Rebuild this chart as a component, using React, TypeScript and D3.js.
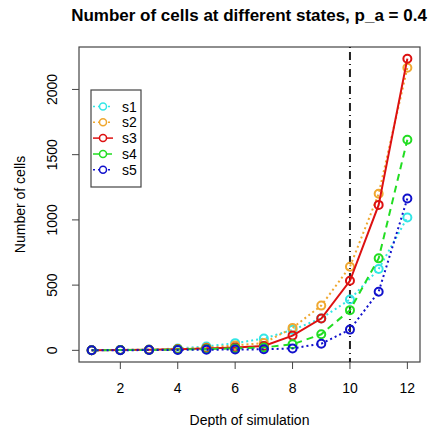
import React from "react";
import * as d3 from "d3";

const depth = [1, 2, 3, 4, 5, 6, 7, 8, 9, 10, 11, 12];
const s1 = [1, 3, 6, 14, 30, 55, 90, 157, 245, 390, 623, 1018];
const s2 = [1, 3, 5, 10, 20, 38, 56, 172, 343, 641, 1200, 2167];
const s3 = [1, 2, 4, 8, 15, 22, 33, 113, 244, 533, 1115, 2236];
const s4 = [1, 2, 3, 6, 10, 15, 22, 46, 123, 308, 705, 1615];
const s5 = [1, 1, 2, 3, 5, 6, 8, 15, 51, 159, 449, 1164];
const xTicks = [2, 4, 6, 8, 10, 12];
const yTicks = [0, 500, 1000, 1500, 2000];
const cutoff = 10;

const series = [
  { name: "s1", values: s1, color: "#33e6e6", dash: "2,3" },
  { name: "s2", values: s2, color: "#f0a830", dash: "2,3" },
  { name: "s3", values: s3, color: "#dd1111", dash: "" },
  { name: "s4", values: s4, color: "#22dd22", dash: "7,5" },
  { name: "s5", values: s5, color: "#1111cc", dash: "2,3" },
];

const W = 430, H = 427;
const left = 79, right = 420, top = 47, bottom = 362;

const App = () => {
  const maxV = d3.max(series, (s) => d3.max(s.values)) as number;
  const xScale = d3.scaleLinear().domain([1 - 11 * 0.04, 12 + 11 * 0.04]).range([left, right]);
  const yScale = d3.scaleLinear().domain([-maxV * 0.04, maxV * 1.04]).range([bottom, top]);
  const line = d3.line<number>().x((d, i) => xScale(depth[i])).y((d) => yScale(d));
  const font = "Liberation Sans, Arial, sans-serif";

  return (
    <svg width={W} height={H} style={{ position: "absolute", left: 0, top: 0 }} fontFamily={font}>
      <rect width={W} height={H} fill="white" />
      <text x={249} y={21} textAnchor="middle" fontWeight="bold" fontSize={17}>
        Number of cells at different states, p_a = 0.4
      </text>
      <rect x={left} y={top} width={right - left} height={bottom - top} fill="none" stroke="#444" strokeWidth={1.2} />
      {xTicks.map((t) => (
        <g key={"x" + t}>
          <line x1={xScale(t)} x2={xScale(t)} y1={bottom} y2={bottom + 7} stroke="#444" />
          <text x={xScale(t)} y={393} textAnchor="middle" fontSize={14}>{t}</text>
        </g>
      ))}
      {yTicks.map((t) => (
        <g key={"y" + t}>
          <line x1={left} x2={left - 7} y1={yScale(t)} y2={yScale(t)} stroke="#444" />
          <text transform={`translate(${left - 22},${yScale(t)}) rotate(-90)`} textAnchor="middle" fontSize={14}>{t}</text>
        </g>
      ))}
      <text x={(left + right) / 2} y={425} textAnchor="middle" fontSize={14}>Depth of simulation</text>
      <text transform={`translate(25,${(top + bottom) / 2}) rotate(-90)`} textAnchor="middle" fontSize={14}>Number of cells</text>
      <line x1={xScale(cutoff)} x2={xScale(cutoff)} y1={top} y2={bottom} stroke="#222" strokeWidth={2} strokeDasharray="1,4,8,4" />
      {series.map((s) => (
        <g key={s.name}>
          <path d={line(s.values) as string} fill="none" stroke={s.color} strokeWidth={2} strokeDasharray={s.dash} />
          {s.values.map((v, i) => (
            <circle key={i} cx={xScale(depth[i])} cy={yScale(v)} r={4} fill="none" stroke={s.color} strokeWidth={2} />
          ))}
        </g>
      ))}
      <rect x={91} y={90} width={50} height={97} fill="white" stroke="#444" strokeWidth={1.2} />
      {series.map((s, i) => {
        const y = 106.5 + i * 15.8;
        return (
          <g key={"l" + s.name}>
            <line x1={93} x2={113} y1={y} y2={y} stroke={s.color} strokeWidth={1.5} strokeDasharray={s.dash} />
            <circle cx={103} cy={y} r={3.5} fill="white" stroke={s.color} strokeWidth={1.5} />
            <text x={122} y={y + 5} fontSize={14}>{s.name}</text>
          </g>
        );
      })}
    </svg>
  );
};

export default App;
